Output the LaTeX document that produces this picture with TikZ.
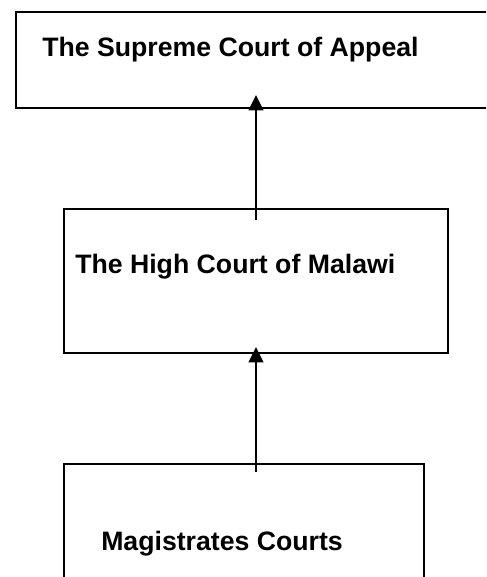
\documentclass[tikz,border=0pt]{standalone}
\usepackage{fontspec}
\setmainfont{Liberation Sans}
\usetikzlibrary{arrows.meta,fit}
\begin{document}
\begin{tikzpicture}[x=0.75pt,y=-0.75pt,
  courtbox/.style={draw=black,line width=1.4pt,inner sep=0pt},
  courtlabel/.style={anchor=base west,inner sep=0pt,font=\bfseries\fontsize{20pt}{24pt}\selectfont},
  appealarrow/.style={line width=1.4pt,-{Triangle[width=11pt,length=11.5pt]}}]
\useasboundingbox (0,0) rectangle (486,577);
\begin{scope}
\clip (0,0) rectangle (486,577);
\node[courtbox,fit={(16,12) (500,108)}] (supreme) {};
\node[courtbox,fit={(64,209) (448,353)}] (high) {};
\node[courtbox,fit={(64,464) (424,600)}] (magistrates) {};
\node[courtlabel] (supremetext) at (42,57) {The Supreme Court of Appeal};
\node[courtlabel] (hightext) at (75,273) {The High Court of Malawi};
\node[courtlabel] (magtext) at (101,550) {Magistrates Courts};
\coordinate (a1from) at (256,220);
\coordinate (a1to) at (256,95);
\coordinate (a2from) at (256,472);
\coordinate (a2to) at (256,347);
\draw[appealarrow] (a1from) -- (a1to);
\draw[appealarrow] (a2from) -- (a2to);
\end{scope}
\end{tikzpicture}
\end{document}
